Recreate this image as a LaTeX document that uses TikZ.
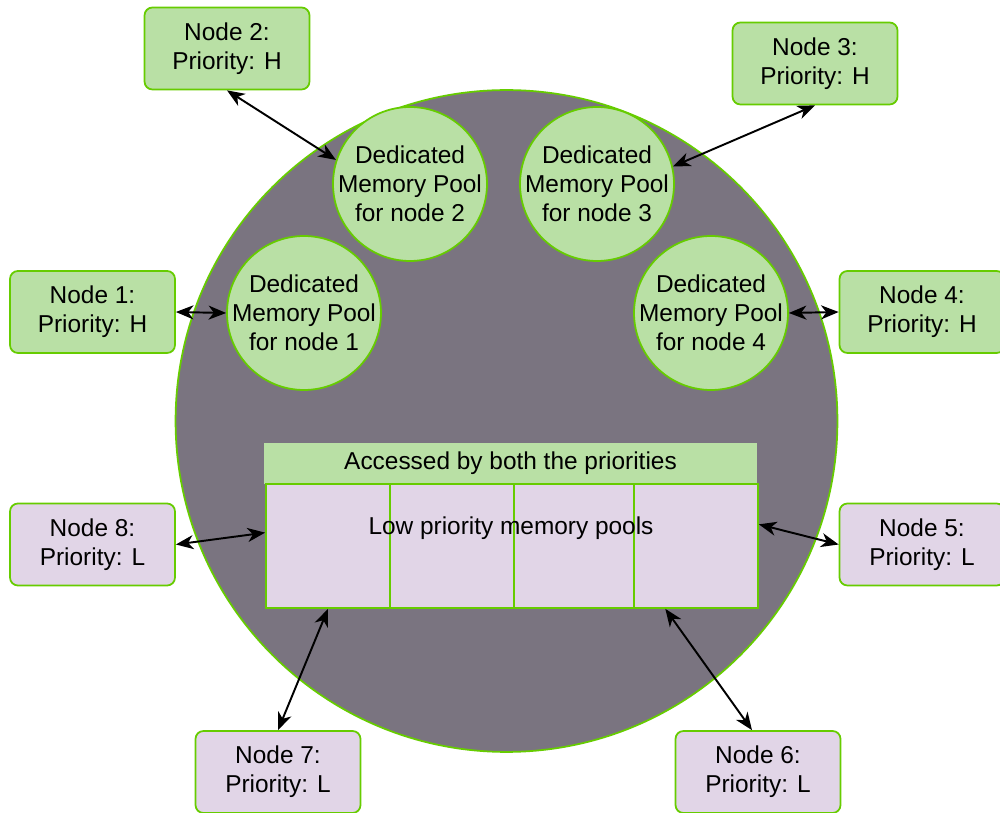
\documentclass[tikz,border=0pt]{standalone}
\usepackage{fontspec}
\setmainfont{Liberation Sans}
\usetikzlibrary{positioning, arrows.meta, calc}

\definecolor{bordergreen}{HTML}{66CC00}
\definecolor{poolgreen}{HTML}{B9E0A5}
\definecolor{lowpurple}{HTML}{E1D5E7}
\definecolor{sharedgrey}{HTML}{7A7480}

\begin{document}
\begin{tikzpicture}[x=0.02cm, y=-0.02cm, >={Stealth[length=10pt, width=8pt, inset=3pt]},
  font=\fontsize{13.9}{16.4}\selectfont,
  hbox/.style={draw=bordergreen, line width=1pt, fill=poolgreen, rounded corners=4.5pt,
    minimum width=3.3cm, minimum height=1.64cm, align=center},
  lbox/.style={hbox, fill=lowpurple},
  pool/.style={circle, draw=bordergreen, line width=1pt, fill=poolgreen,
    minimum size=3.08cm, inner sep=-2pt, align=center},
  cell/.style={draw=bordergreen, line width=1pt, fill=lowpurple,
    minimum width=2.48cm, minimum height=2.48cm, inner sep=0pt},
  link/.style={<->, line width=1.1pt}]

\useasboundingbox (0,0) rectangle (1000,813);

% shared memory
\node[circle, draw=bordergreen, line width=1pt, fill=sharedgrey, minimum size=13.24cm, inner sep=0pt] (ring) at (506.5,421) {};

% dedicated pools
\node[pool] (pool2) at (410,184) {Dedicated\\Memory Pool\\for node 2};
\node[pool] (pool3) at (597,184) {Dedicated\\Memory Pool\\for node 3};
\node[pool] (pool1) at (304,313) {Dedicated\\Memory Pool\\for node 1};
\node[pool] (pool4) at (711,313) {Dedicated\\Memory Pool\\for node 4};

% low priority pools
\node[fill=poolgreen, minimum width=9.86cm, minimum height=0.82cm, inner sep=0pt] (shared) at (510.5,463.5) {Accessed by both the priorities};
\node[cell] (cell1) at (328,546) {};
\node[cell] (cell2) at (452,546) {};
\node[cell, minimum width=2.4cm] (cell3) at (574,546) {};
\node[cell] (cell4) at (696,546) {};
\node (lowlabel) at (511,528) {Low priority memory pools};

% nodes
\node[hbox] (n2) at (227,48.5) {Node 2:\\Priority: H};
\node[hbox] (n3) at (815,63.5) {Node 3:\\Priority: H};
\node[hbox] (n1) at (92.5,312) {Node 1:\\Priority: H};
\node[hbox] (n4) at (922,312) {Node 4:\\Priority: H};
\node[lbox] (n8) at (92.5,544.5) {Node 8:\\Priority: L};
\node[lbox] (n5) at (922,544.5) {Node 5:\\Priority: L};
\node[lbox] (n7) at (278,772) {Node 7:\\Priority: L};
\node[lbox] (n6) at (758,772) {Node 6:\\Priority: L};

\draw[link] (n2.south) -- (pool2.162);
\draw[link] (n3.south) -- (pool3.13);
\draw[link] (n1.east) -- (pool1.west);
\draw[link] (n4.west) -- (pool4.east);
\draw[link] (n8.east) -- (cell1.168);
\draw[link] (n5.west) -- (cell4.19);
\draw[link] (n7.north) -- (cell1.south);
\draw[link] ($(n6.north)+(-6,0)$) -- (cell4.244);

\end{tikzpicture}
\end{document}
